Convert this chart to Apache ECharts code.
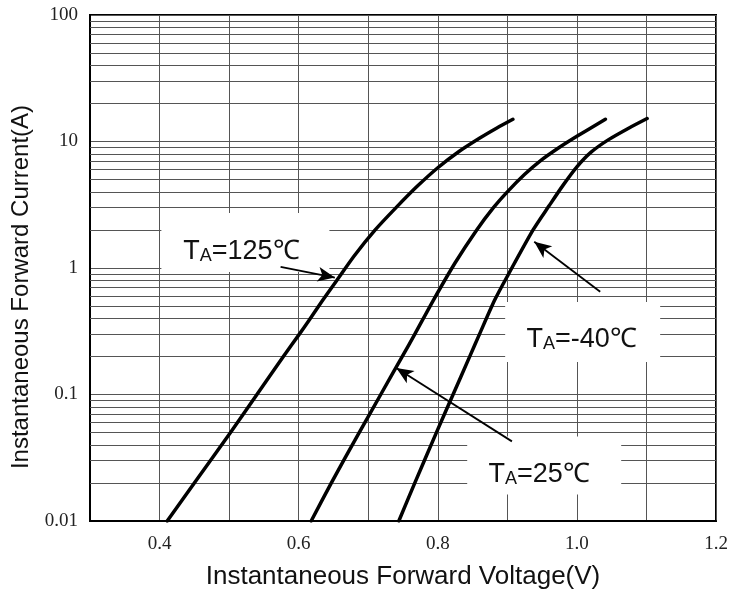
<!DOCTYPE html>
<html>
<head>
<meta charset="utf-8">
<script src="https://cdn.jsdelivr.net/npm/echarts@6/dist/echarts.min.js"></script>
<style>html,body{margin:0;padding:0;background:#fff}#c{width:733px;height:595px}</style>
</head>
<body>
<div id="c"></div>
<script>
// ---- data ----
const xTickLabels = ['0.4', '0.6', '0.8', '1.0', '1.2'];
const yTickLabels = ['0.01', '0.1', '1', '10', '100'];
const minorGridValues = [0.02,0.03,0.04,0.05,0.06,0.07,0.08,0.09,0.2,0.3,0.4,0.5,0.6,0.7,0.8,0.9,2,3,4,5,6,7,8,9,20,30,40,50,60,70,80,90];

const volt125 = [0.411,0.45,0.502,0.54,0.578,0.601,0.614,0.634,0.655,0.68,0.71,0.74,0.77,0.80,0.83,0.861,0.885,0.908];
const amp125  = [0.01,0.02,0.05,0.1,0.2,0.3,0.38,0.55,0.80,1.25,2.0,3.0,4.4,6.2,8.3,10.7,12.8,15];

const volt25 = [0.618,0.647,0.687,0.718,0.749,0.767,0.794,0.825,0.856,0.88,0.9,0.925,0.947,0.975,1.0,1.041];
const amp25  = [0.01,0.02,0.05,0.1,0.2,0.3,0.56,1.1,2.0,3.0,4.0,5.5,7.0,9.0,11.0,15];

const voltM40 = [0.744,0.767,0.798,0.822,0.846,0.860,0.882,0.90,0.937,0.96,0.98,1.0,1.02,1.045,1.075,1.101];
const ampM40  = [0.01,0.02,0.05,0.1,0.2,0.3,0.56,0.86,2.0,3.1,4.5,6.3,8.2,10.3,12.8,15.2];

const seriesTemps = ['125', '25', '-40'];
// label anchor (data coords) and arrow from -> to (data coords)
const labelAt   = { '125': [0.5234, 1.589], '25': [0.953, 0.0274], '-40': [1.0083, 0.3126] };
const arrowFrom = { '125': [0.574, 1.02],  '25': [0.9066, 0.0426], '-40': [1.0335, 0.65] };
const arrowTo   = { '125': [0.652, 0.84],  '25': [0.7404, 0.162],  '-40': [0.9387, 1.61] };

// ---- styles ----
const boxSize   = { '125': [168, 59], '25': [154, 58], '-40': [155, 60] };
const textShift = { '125': [-4, 6],   '25': [-5, 6],   '-40': [-1, 5] };

function pairs(xs, ys) { return xs.map((x, i) => [x, ys[i]]); }
const curves = { '125': pairs(volt125, amp125), '25': pairs(volt25, amp25), '-40': pairs(voltM40, ampM40) };

const rich = {
  t: { fontFamily: 'Liberation Sans', fontSize: 27, color: '#111', verticalAlign: 'bottom', lineHeight: 32 },
  s: { fontFamily: 'Liberation Sans', fontSize: 18, color: '#111', verticalAlign: 'bottom', lineHeight: 32 }
};

const gridColor = '#555';

const series = [{
  type: 'line',
  name: 'minor',
  data: [],
  z: 1,
  silent: true,
  markLine: {
    z: 1,
    silent: true,
    symbol: ['none', 'none'],
    label: { show: false },
    lineStyle: { color: gridColor, width: 1, type: 'solid' },
    data: minorGridValues.map(v => ({ yAxis: v }))
  }
}, {
  type: 'line',
  name: 'labels',
  data: [],
  z: 3,
  silent: true,
  markPoint: {
    z: 3,
    silent: true,
    symbol: 'rect',
    itemStyle: { color: '#fff' },
    label: { show: true, position: 'inside', rich: rich },
    data: seriesTemps.map(t => ({
      coord: labelAt[t],
      symbolSize: boxSize[t],
      label: { offset: textShift[t], formatter: '{t|T}{s|A}{t|=' + t + '℃}' }
    }))
  }
}];

seriesTemps.forEach(t => {
  series.push({
    type: 'line',
    name: 'TA=' + t + '℃',
    data: curves[t],
    z: 4,
    showSymbol: false,
    smooth: 0.25,
    lineStyle: { color: '#000', width: 3.5, join: 'round', cap: 'round' },
    markLine: {
      z: 6,
      silent: true,
      symbol: ['none', 'arrow'],
      symbolSize: [11, 17],
      label: { show: false },
      lineStyle: { color: '#000', width: 1.8, type: 'solid' },
      data: [[{ coord: arrowFrom[t] }, { coord: arrowTo[t] }]]
    }
  });
});

const chart = echarts.init(document.getElementById('c'), null, { renderer: 'canvas' });
chart.setOption({
  animation: false,
  backgroundColor: '#fff',
  grid: { left: 90, right: 17, top: 15, bottom: 73, show: true, borderColor: '#000', borderWidth: 2, backgroundColor: 'transparent' },
  xAxis: {
    type: 'value',
    min: 0.3, max: 1.2, interval: 0.1,
    name: 'Instantaneous Forward Voltage(V)',
    nameLocation: 'middle',
    nameGap: 43,
    nameTextStyle: { fontFamily: 'Liberation Sans', fontSize: 26, color: '#111' },
    axisLine: { show: true, lineStyle: { color: '#000', width: 2 } },
    axisTick: { show: false },
    axisLabel: {
      margin: 14,
      fontFamily: 'Liberation Serif', fontSize: 19, color: '#222',
      showMinLabel: true, showMaxLabel: true,
      formatter: v => { const s = v.toFixed(1); return xTickLabels.indexOf(s) >= 0 ? s : ''; }
    },
    splitLine: { show: true, lineStyle: { color: gridColor, width: 1 } }
  },
  yAxis: {
    type: 'log',
    logBase: 10,
    min: 0.01, max: 100,
    name: 'Instantaneous Forward Current(A)',
    nameLocation: 'middle',
    nameGap: 54,
    nameTextStyle: { fontFamily: 'Liberation Sans', fontSize: 24, color: '#111', padding: [0, 38, 0, 0] },
    axisLine: { show: true, lineStyle: { color: '#000', width: 2 } },
    axisTick: { show: false },
    axisLabel: {
      margin: 12,
      fontFamily: 'Liberation Serif', fontSize: 19, color: '#222',
      formatter: v => { const i = Math.round(Math.log10(v)) + 2; return yTickLabels[i] || ''; }
    },
    splitLine: { show: true, lineStyle: { color: gridColor, width: 1 } }
  },
  series: series
});
</script>
</body>
</html>
